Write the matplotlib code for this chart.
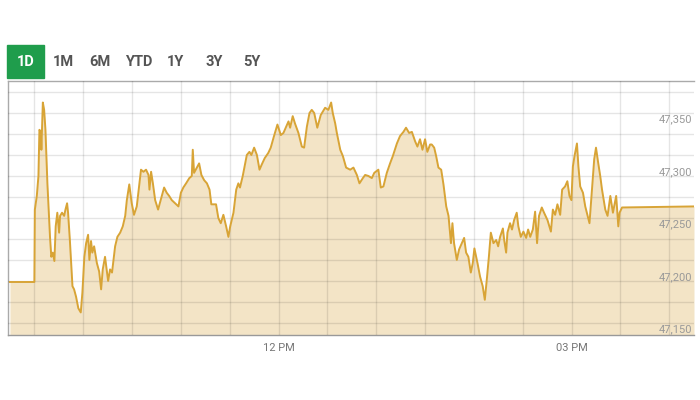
"""
Intraday index chart (1D view) with period selector buttons.
"""

import matplotlib.pyplot as plot
import matplotlib.patches as patches
import numpy

from matplotlib.ticker import FixedLocator, NullFormatter

# minutes after 09:30 and index level
minutes = [
  -15, 0, 0.3, 1.5, 2.5, 3.1, 4.0, 4.3, 5.2, 6.0, 6.8, 8.0, 9.6, 10.4, 11.3, 12.3,
  13.1, 14.1, 15.2, 15.8, 17.0, 18.3, 19.1, 20.1, 20.7, 21.8, 22.6, 23.4, 24.4, 25.6,
  27.0, 28.5, 29.5, 30.7, 31.8, 33.0, 33.8, 34.8, 35.6, 36.7, 38.4, 39.8, 41.0, 42.0,
  43.4, 45.3, 46.5, 47.7, 49.6, 51.0, 52.7, 54.3, 55.8, 56.8, 58.3, 59.8, 61.2, 62.9,
  64.1, 65.5, 67.0, 68.6, 70.1, 70.7, 71.7, 72.8, 74.2, 76.0, 77.6, 79.7, 81.3, 82.8,
  84.4, 86.5, 88.5, 90.0, 91.5, 93.2, 95.2, 96.7, 97.3, 98.1, 99.8, 101.2, 102.6,
  104.3, 106.0, 107.6, 108.7, 111.6, 113.0, 114.5, 116.1, 117.8, 119.2, 120.3, 122.3,
  124.0, 125.3, 126.3, 128.0, 130.5, 132.1, 133.3, 135.0, 136.7, 138.3, 139.7, 141.5,
  143.7, 145.2, 147.2, 149.3, 151.4, 153.0, 154.7, 156.1, 157.1, 158.7, 160.1, 162.2,
  164.3, 165.7, 167.4, 169.0, 170.4, 171.9, 173.8, 175.9, 178.6, 180.6, 182.3, 183.3,
  184.8, 185.8, 187.9, 189.5, 191.5, 194.0, 196.0, 198.1, 199.7, 201.8, 203.2, 205.2,
  207.3, 208.8, 211.3, 212.8, 214.4, 216.5, 218.5, 220.2, 222.7, 224.6, 226.7, 228.3,
  230.2, 231.9, 233.9, 235.3, 236.9, 238.4, 240.0, 241.4, 243.1, 244.1, 245.6, 246.8,
  248.2, 249.9, 251.3, 253.0, 254.4, 255.9, 256.8, 257.8, 259.5, 260.9, 262.6, 264.0,
  265.2, 266.6, 268.1, 269.3, 270.3, 272.2, 273.8, 275.4, 276.7, 277.9, 279.2, 280.4,
  282.0, 283.7, 284.9, 286.1, 287.8, 288.6, 289.8, 290.6, 292.2, 293.4, 294.7, 296.3,
  297.3, 298.8, 300.4, 302.1, 303.3, 304.6, 306.2, 307.6, 308.8, 310.0, 311.7, 313.1,
  315.2, 317.3, 318.5, 319.9, 321.3, 323.0, 324.2, 326.0, 327.4, 328.7, 329.9, 330.8,
  331.8, 333.3, 334.2, 335.3, 337.0, 338.4, 341.0, 342.5, 343.9, 345.0, 346.2, 347.6,
  348.7, 350.7, 352.1, 353.8, 355.4, 357.4, 358.7, 359.5, 361.0, 405.2,
]

levels = [
  47189, 47189, 47258, 47271, 47290, 47334, 47332, 47315, 47360, 47353, 47334, 47283,
  47232, 47213, 47217, 47209, 47242, 47255, 47236, 47252, 47255, 47252, 47258, 47264,
  47255, 47229, 47207, 47185, 47182, 47175, 47164, 47160, 47179, 47213, 47226, 47234,
  47210, 47228, 47217, 47223, 47207, 47199, 47182, 47201, 47213, 47190, 47201, 47198,
  47223, 47232, 47236, 47242, 47252, 47267, 47282, 47264, 47253, 47261, 47277, 47296,
  47294, 47296, 47291, 47277, 47294, 47283, 47267, 47258, 47267, 47279, 47274, 47271,
  47267, 47264, 47261, 47274, 47279, 47283, 47288, 47290, 47315, 47293, 47298, 47302,
  47291, 47286, 47283, 47277, 47263, 47263, 47250, 47245, 47253, 47242, 47232, 47242,
  47255, 47277, 47283, 47279, 47290, 47310, 47313, 47310, 47317, 47310, 47296, 47301,
  47307, 47312, 47317, 47328, 47339, 47329, 47331, 47337, 47342, 47336, 47347, 47340,
  47331, 47318, 47317, 47337, 47350, 47353, 47350, 47336, 47348, 47355, 47353, 47360,
  47350, 47340, 47331, 47315, 47309, 47298, 47296, 47298, 47291, 47283, 47288, 47291,
  47290, 47288, 47293, 47296, 47279, 47280, 47293, 47302, 47309, 47321, 47328, 47332,
  47336, 47331, 47332, 47323, 47318, 47325, 47315, 47325, 47313, 47320, 47320, 47317,
  47309, 47298, 47296, 47282, 47261, 47252, 47226, 47245, 47226, 47210, 47220, 47226,
  47231, 47217, 47213, 47198, 47207, 47221, 47207, 47194, 47185, 47172, 47191, 47213,
  47236, 47226, 47229, 47223, 47232, 47240, 47229, 47217, 47236, 47245, 47239, 47248,
  47255, 47242, 47232, 47237, 47231, 47239, 47232, 47239, 47256, 47226, 47252, 47260,
  47255, 47248, 47237, 47258, 47253, 47263, 47253, 47277, 47280, 47285, 47271, 47267,
  47299, 47309, 47321, 47299, 47280, 47274, 47261, 47245, 47277, 47306, 47317, 47304,
  47290, 47277, 47258, 47252, 47271, 47255, 47271, 47242, 47255, 47260, 47261,
]

periods = ["1D", "1M", "6M", "YTD", "1Y", "3Y", "5Y"]
period_centers = [26, 63, 100, 139, 176, 214, 252]

y_labels = [47150, 47200, 47250, 47300, 47350]
x_labels = {150: "12 PM", 330: "03 PM"}

LINE_COLOR = "#d8a436"
FILL_COLOR = "#f3e4c6"
BUTTON_GREEN = "#1f9d4c"


def draw_period_buttons(figure):
  """
  Draws the period selector row above the chart, with 1D highlighted.
  """

  width, height = figure.get_size_inches() * figure.dpi
  for label, center in zip(periods, period_centers):
    if label == "1D":
      box = patches.Rectangle((7 / width, 1 - 78 / height), 37 / width, 33 / height,
                              transform=figure.transFigure, color=BUTTON_GREEN)
      figure.patches.append(box)
      color = "white"
    else:
      color = "#555555"
    figure.text(center / width, 1 - 62 / height, label, color=color,
                fontsize=10.5, fontweight="bold", family="Roboto",
                ha="center", va="center")


def main():
  figure = plot.figure(figsize=(7, 4), dpi=100)
  axes = figure.add_axes([8 / 700, 1 - 335 / 400, 686 / 700, 254 / 400])

  x = numpy.array(minutes)
  y = numpy.array(levels)

  axes.fill_between(x, y, 47100, color=FILL_COLOR, lw=0, zorder=1)
  axes.plot(x, y, color=LINE_COLOR, lw=1.4, zorder=3)

  axes.set_xlim(-16.2, 405.2)
  axes.set_ylim(47138.5, 47380.5)

  # grid every half hour and every 20 points, drawn on top of the fill
  axes.xaxis.set_major_locator(FixedLocator(list(x_labels.keys())))
  axes.xaxis.set_minor_locator(FixedLocator(numpy.arange(0, 400, 30)))
  axes.yaxis.set_major_locator(FixedLocator(numpy.arange(47150, 47380, 20)))
  axes.set_axisbelow(False)
  axes.grid(True, which="both", color="black", alpha=0.1, lw=1)

  axes.set_xticklabels(list(x_labels.values()))
  axes.xaxis.set_minor_formatter(NullFormatter())
  axes.tick_params(axis="x", which="both", length=0, pad=6, labelsize=8,
                   labelcolor="#777777")
  axes.tick_params(axis="y", length=0, labelleft=False)
  for label in axes.get_xticklabels():
    label.set_family("Roboto")

  for value in y_labels:
    axes.text(405.2 - 1, value - 1.5, "{:,}".format(value), ha="right", va="top",
              fontsize=8, color="#999999", family="Roboto", zorder=4)

  for side in ["left", "top", "bottom"]:
    axes.spines[side].set_color("#aaaaaa")
    axes.spines[side].set_linewidth(1)
  axes.spines["bottom"].set_color("#999999")
  axes.spines["right"].set_visible(False)

  draw_period_buttons(figure)

  figure.savefig("out.png", dpi=100)
  plot.close()


if __name__ == "__main__":
  main()
